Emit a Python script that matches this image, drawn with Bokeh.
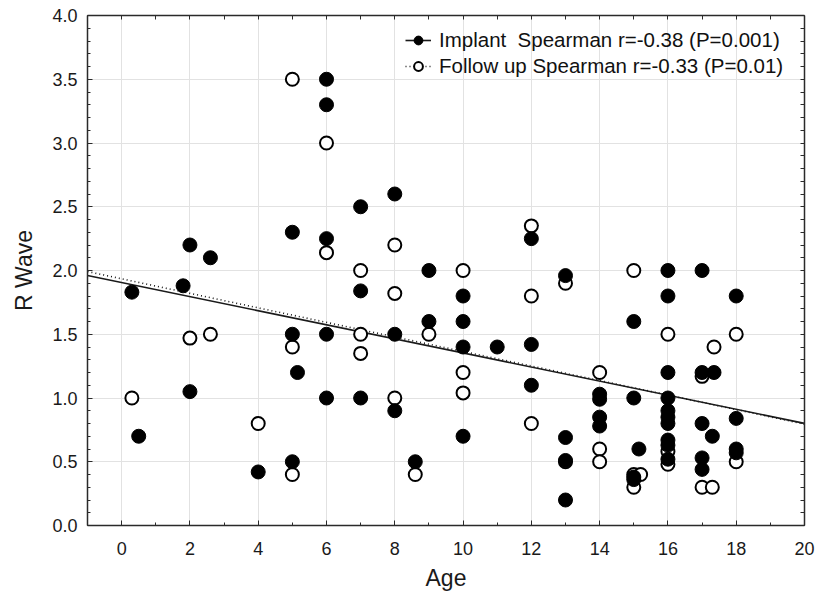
from bokeh.plotting import figure
from bokeh.models import (LinearAxis, SingleIntervalTicker, FixedTicker, Range1d, Legend,
                          LegendItem, NumeralTickFormatter)
from bokeh.embed import file_html
from bokeh.resources import INLINE

# ---- data ----
implant_age = [0.3, 0.5, 1.8, 2, 2.6, 2, 4, 5, 5, 5.15, 5, 6, 6, 6, 6, 6,
               7, 7, 7, 8, 8, 8, 8.6, 9, 9, 10, 10, 10, 10, 11, 12, 12, 12,
               13, 13, 13, 13, 14, 14, 14, 14, 15, 15, 15.15, 15, 15,
               16, 16, 16, 16, 16, 16, 16, 16, 16, 16,
               17, 17, 17.35, 17, 17.3, 17, 17, 18, 18, 18, 18]
implant_r = [1.83, 0.7, 1.88, 2.2, 2.1, 1.05, 0.42, 2.3, 1.5, 1.2, 0.5, 3.5, 3.3, 2.25, 1.5, 1.0,
             2.5, 1.84, 1.0, 2.6, 1.5, 0.9, 0.5, 2.0, 1.6, 1.8, 1.6, 1.4, 0.7, 1.4, 2.25, 1.42, 1.1,
             1.96, 0.69, 0.51, 0.2, 1.03, 0.99, 0.85, 0.78, 1.6, 1.0, 0.6, 0.38, 0.36,
             2.0, 1.8, 1.2, 1.0, 0.9, 0.85, 0.8, 0.67, 0.63, 0.52,
             2.0, 1.2, 1.2, 0.8, 0.7, 0.53, 0.44, 1.8, 0.84, 0.6, 0.57]

follow_age = [0.3, 2, 2.6, 4, 5, 5, 5, 6, 6, 7, 7, 7, 8, 8, 8, 8.6, 9,
              10, 10, 10, 12, 12, 12, 13, 13, 14, 14, 14, 15, 15, 15.2, 15,
              16, 16, 16, 17, 17, 17.3, 17.35, 18, 18]
follow_r = [1.0, 1.47, 1.5, 0.8, 3.5, 1.4, 0.4, 3.0, 2.14, 2.0, 1.5, 1.35, 2.2, 1.82, 1.0, 0.4, 1.5,
            2.0, 1.2, 1.04, 2.35, 1.8, 0.8, 1.9, 0.5, 1.2, 0.6, 0.5, 2.0, 0.4, 0.4, 0.3,
            1.5, 0.58, 0.48, 1.17, 0.3, 0.3, 1.4, 1.5, 0.5]

# regression fits: [intercept, slope]
implant_fit = [1.905, -0.0552]
follow_fit = [1.935, -0.0570]
fit_age = [-1, 20]

implant_label = "Implant  Spearman r=-0.38 (P=0.001)"
follow_label = "Follow up Spearman r=-0.33 (P=0.01)"

X_MIN, X_MAX = -1, 20
Y_MIN, Y_MAX = 0, 4

FONT = "Liberation Sans"
AX = "#2a2a2a"

p = figure(width=818, height=597, output_backend="svg", toolbar_location=None,
           x_range=Range1d(X_MIN, X_MAX), y_range=Range1d(Y_MIN, Y_MAX),
           min_border_left=87, min_border_right=14, min_border_top=15, min_border_bottom=72)
p.outline_line_color = None
p.background_fill_color = "white"

xt = SingleIntervalTicker(interval=2, num_minor_ticks=2)
yt = SingleIntervalTicker(interval=0.5, num_minor_ticks=5)

p.xaxis.ticker = xt
p.yaxis.ticker = yt
p.yaxis.formatter = NumeralTickFormatter(format="0.0")
p.xgrid.ticker = xt
p.ygrid.ticker = yt
for g in (p.xgrid, p.ygrid):
    g.grid_line_color = "#e2e2e2"
    g.grid_line_width = 1

p.xaxis.axis_label = "Age"
p.yaxis.axis_label = "R Wave"

for ax in (p.xaxis[0], p.yaxis[0]):
    ax.axis_line_color = AX
    ax.axis_line_width = 1.5
    ax.major_tick_in = 5
    ax.major_tick_out = 0
    ax.minor_tick_in = 3
    ax.minor_tick_out = 0
    ax.major_tick_line_color = AX
    ax.minor_tick_line_color = AX
    ax.major_label_text_font = FONT
    ax.major_label_text_font_size = "18px"
    ax.major_label_text_color = "#1a1a1a"
    ax.axis_label_text_font = FONT
    ax.axis_label_text_font_size = "23px"
    ax.axis_label_text_font_style = "normal"
    ax.axis_label_text_color = "#1a1a1a"

p.xaxis.major_label_standoff = 16
p.xaxis.axis_label_standoff = 7
p.yaxis.major_label_standoff = 10
p.yaxis.axis_label_standoff = 12

# frame ticks on top and right (tick marks only, no labels)
top_ticks = [X_MIN + i for i in range(X_MAX - X_MIN + 1)]
right_ticks = [round(Y_MIN + 0.1 * i, 1) for i in range(int((Y_MAX - Y_MIN) * 10) + 1)]
for loc, tks in (("above", top_ticks), ("right", right_ticks)):
    ax = LinearAxis(ticker=FixedTicker(ticks=[], minor_ticks=tks))
    ax.axis_line_color = AX
    ax.axis_line_width = 1.5
    ax.minor_tick_in = 4
    ax.minor_tick_out = 0
    ax.minor_tick_line_color = AX
    ax.major_label_standoff = 0
    p.add_layout(ax, loc)

# regression lines
imp_line_y = [implant_fit[0] + implant_fit[1] * a for a in fit_age]
fol_line_y = [follow_fit[0] + follow_fit[1] * a for a in fit_age]
l_fol = p.line(fit_age, fol_line_y, line_color="#1a1a1a", line_width=1.6, line_dash="1 3")
l_imp = p.line(fit_age, imp_line_y, line_color="#1a1a1a", line_width=1.6)

s_fol = p.scatter(follow_age, follow_r, marker="circle", size=13, fill_color="white",
                  line_color="black", line_width=2)
s_imp = p.scatter(implant_age, implant_r, marker="circle", size=14, fill_color="black",
                  line_color="black", line_width=1)

legend = Legend(items=[LegendItem(label=implant_label, renderers=[l_imp, s_imp]),
                       LegendItem(label=follow_label, renderers=[l_fol, s_fol])],
                location=(318, 447))
legend.label_text_font = FONT
legend.label_text_font_size = "20.5px"
legend.label_text_color = "#111111"
legend.background_fill_alpha = 0
legend.border_line_color = None
legend.spacing = 2
legend.padding = 6
legend.margin = 0
legend.glyph_width = 26
legend.glyph_height = 22
legend.label_height = 22
legend.label_standoff = 8
p.add_layout(legend, "center")

open("out.html", "w").write(file_html(p, INLINE))
